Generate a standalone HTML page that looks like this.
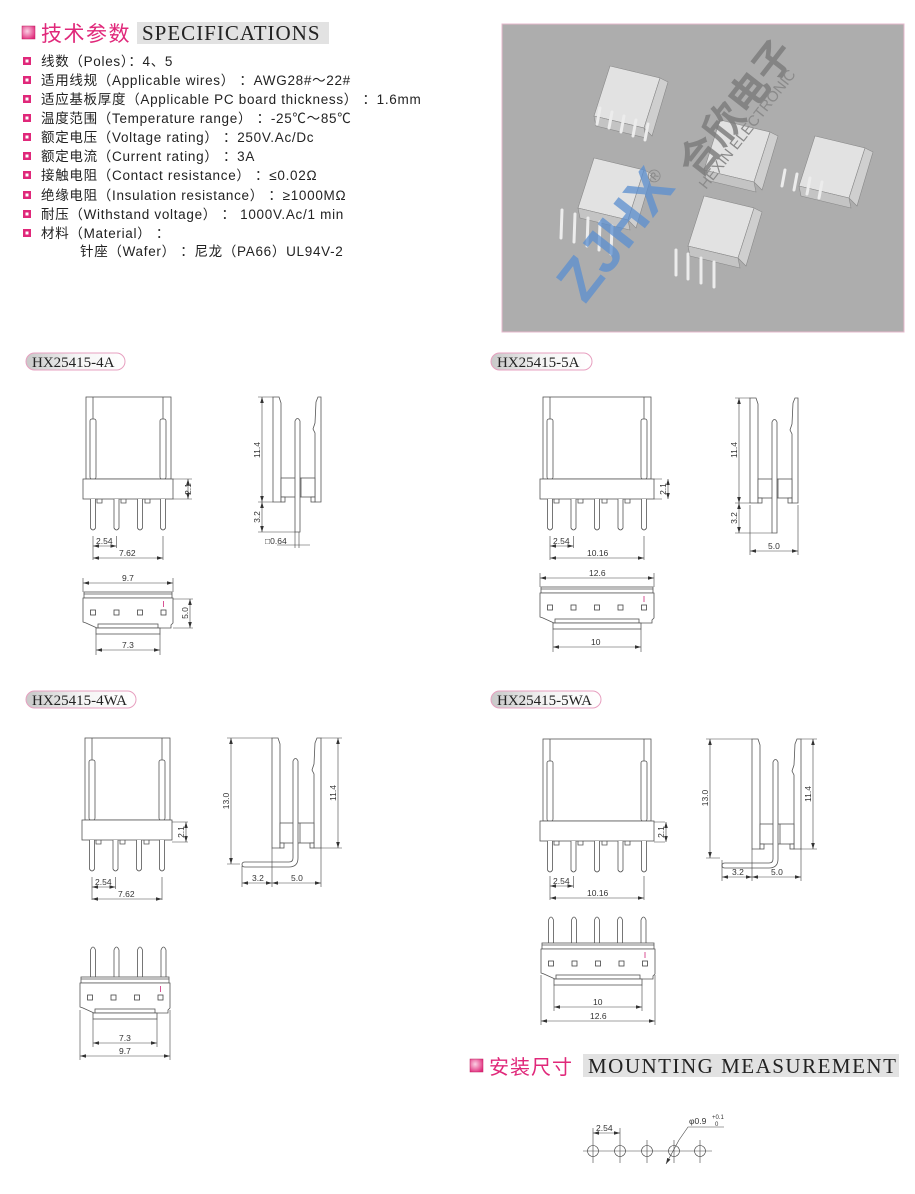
<!DOCTYPE html>
<html><head><meta charset="utf-8">
<style>
html,body{margin:0;padding:0;background:#fff;}
body{width:915px;height:1194px;overflow:hidden;position:relative;}
svg{position:absolute;left:0;top:0;}
.cn{font-family:"Liberation Sans","Noto Sans CJK SC",sans-serif;}
</style></head>
<body>
<svg width="915" height="1194" viewBox="0 0 915 1194" xmlns="http://www.w3.org/2000/svg">
<defs>
<linearGradient id="pill" x1="0" y1="0" x2="1" y2="0">
<stop offset="0" stop-color="#c8c8c8"/><stop offset="0.5" stop-color="#f4f4f4"/><stop offset="1" stop-color="#ffffff"/></linearGradient>
<radialGradient id="ico" cx="0.4" cy="0.4" r="0.7"><stop offset="0" stop-color="#fbd0e4"/><stop offset="1" stop-color="#e0287a"/></radialGradient>
<marker id="ar" viewBox="0 0 10 6" refX="10" refY="3" markerWidth="6" markerHeight="3.6" orient="auto-start-reverse" markerUnits="userSpaceOnUse"><path d="M0,0 L10,3 L0,6 Z" fill="#333"/></marker>
<g id="f4" fill="#fff" stroke="#555" stroke-width="0.8">
<rect x="3" y="0" width="85" height="82"/>
<line x1="10" y1="0" x2="10" y2="82"/><line x1="80" y1="0" x2="80" y2="82"/>
<rect x="7" y="22" width="6" height="60" rx="2"/><rect x="77" y="22" width="6" height="60" rx="2"/>
<rect x="0" y="82" width="90" height="20"/>
<path d="M7.5,102 V131 Q10,135 12.5,131 V102 M31,102 V131 Q33.5,135 36,131 V102 M54.5,102 V131 Q57,135 59.5,131 V102 M77.5,102 V131 Q80,135 82.5,131 V102"/>
<path d="M14,102 v4 h5 v-4 M38,102 v4 h5 v-4 M62,102 v4 h5 v-4" fill="none"/>
</g>
<g id="f5" fill="#fff" stroke="#555" stroke-width="0.8">
<rect x="3" y="0" width="108" height="82"/>
<line x1="10" y1="0" x2="10" y2="82"/><line x1="104" y1="0" x2="104" y2="82"/>
<rect x="7" y="22" width="6" height="60" rx="2"/><rect x="101" y="22" width="6" height="60" rx="2"/>
<rect x="0" y="82" width="114" height="20"/>
<path d="M7.5,102 V131 Q10,135 12.5,131 V102 M31,102 V131 Q33.5,135 36,131 V102 M54.5,102 V131 Q57,135 59.5,131 V102 M78,102 V131 Q80.5,135 83,131 V102 M101.5,102 V131 Q104,135 106.5,131 V102"/>
<path d="M14,102 v4 h5 v-4 M38,102 v4 h5 v-4 M62,102 v4 h5 v-4 M85,102 v4 h5 v-4" fill="none"/>
</g>
<g id="sA" fill="#fff" stroke="#555" stroke-width="0.8">
<path d="M0,0 H6 L8,6 V105 H0 Z"/>
<path d="M43,5 L45,0 H48 V105 H42 V36 L40,32 L42,26 Z"/>
<rect x="8" y="81" width="34" height="19"/><line x1="28" y1="81" x2="28" y2="100"/>
<rect x="8" y="100" width="4" height="5"/><rect x="38" y="100" width="4" height="5"/>
<path d="M22,135 V24 Q24.5,19 27,24 V135 Z"/>
</g>
<g id="sW" fill="#fff" stroke="#555" stroke-width="0.8">
<path d="M0,0 H6 L8,6 V110 H0 Z"/>
<path d="M43,5 L45,0 H49 V110 H42 V36 L40,32 L42,26 Z"/>
<rect x="8" y="85" width="34" height="20"/><line x1="28" y1="85" x2="28" y2="105"/>
<rect x="8" y="105" width="4" height="5"/><rect x="38" y="105" width="4" height="5"/>
<path d="M21,23 Q23.5,18 26,23 V120 Q26,129 17,129 H-27 Q-30,129 -30,126.5 Q-30,124 -27,124 H17 Q21,124 21,120 Z"/>
</g>
<g id="b4" fill="#fff" stroke="#555" stroke-width="0.8">
<rect x="1" y="0" width="88" height="6"/><line x1="1" y1="2" x2="89" y2="2"/>
<path d="M0,6 H90 V31 L88,33 V36 H14 L3,31 L0,30 Z"/>
<rect x="15" y="32" width="60" height="4"/>
<rect x="13" y="36" width="64" height="6"/>
<g stroke="#444"><rect x="7.5" y="18" width="5" height="5"/><rect x="31" y="18" width="5" height="5"/><rect x="54.5" y="18" width="5" height="5"/><rect x="78" y="18" width="5" height="5"/></g>
<line x1="80.5" y1="9" x2="80.5" y2="15" stroke="#d0287a"/>
</g>
<g id="b5" fill="#fff" stroke="#555" stroke-width="0.8">
<rect x="1" y="0" width="112" height="6"/><line x1="1" y1="2" x2="113" y2="2"/>
<path d="M0,6 H114 V31 L112,33 V36 H14 L3,31 L0,30 Z"/>
<rect x="15" y="32" width="84" height="4"/>
<rect x="13" y="36" width="88" height="6"/>
<g stroke="#444"><rect x="7.5" y="18" width="5" height="5"/><rect x="31" y="18" width="5" height="5"/><rect x="54.5" y="18" width="5" height="5"/><rect x="78" y="18" width="5" height="5"/><rect x="101.5" y="18" width="5" height="5"/></g>
<line x1="104" y1="9" x2="104" y2="15" stroke="#d0287a"/>
</g>
<g id="conn">
<path d="M0,0 L50,12 L34,62 L-16,50 Z" fill="#e2e2e2" stroke="#8a8a8a" stroke-width="0.6"/>
<path d="M-16,50 L34,62 L36,72 L-14,60 Z" fill="#c4c4c4" stroke="#8a8a8a" stroke-width="0.6"/>
<path d="M34,62 L50,12 L58,16 L42,70 Z" fill="#cfcfcf" stroke="#8a8a8a" stroke-width="0.6"/>
</g>
</defs>

<!-- SPECIFICATIONS header -->
<rect x="22" y="26" width="13" height="13" fill="url(#ico)" stroke="#c02060" stroke-width="0.5"/>
<text x="41" y="41" class="cn" font-size="21" letter-spacing="1.5" fill="#e0287a">技术参数</text>
<rect x="137" y="22" width="192" height="22" fill="#e2e2e2"/>
<text x="142" y="40" font-family="Liberation Serif,serif" font-size="21" letter-spacing="1" fill="#222">SPECIFICATIONS</text>

<g class="cn" font-size="13.5" letter-spacing="0.7" fill="#222">
<g fill="#e0287a"><rect x="23" y="57" width="8" height="8"/><rect x="23" y="76" width="8" height="8"/><rect x="23" y="95" width="8" height="8"/><rect x="23" y="114" width="8" height="8"/><rect x="23" y="133" width="8" height="8"/><rect x="23" y="152" width="8" height="8"/><rect x="23" y="171" width="8" height="8"/><rect x="23" y="191" width="8" height="8"/><rect x="23" y="210" width="8" height="8"/><rect x="23" y="229" width="8" height="8"/></g>
<g fill="#fff"><rect x="25.5" y="59.5" width="3" height="3"/><rect x="25.5" y="78.5" width="3" height="3"/><rect x="25.5" y="97.5" width="3" height="3"/><rect x="25.5" y="116.5" width="3" height="3"/><rect x="25.5" y="135.5" width="3" height="3"/><rect x="25.5" y="154.5" width="3" height="3"/><rect x="25.5" y="173.5" width="3" height="3"/><rect x="25.5" y="193.5" width="3" height="3"/><rect x="25.5" y="212.5" width="3" height="3"/><rect x="25.5" y="231.5" width="3" height="3"/></g>
<text x="41" y="66">线数（Poles）：4、5</text>
<text x="41" y="85">适用线规（Applicable wires） ：AWG28#～22#</text>
<text x="41" y="104">适应基板厚度（Applicable PC board thickness） ：1.6mm</text>
<text x="41" y="123">温度范围（Temperature range） ：-25℃～85℃</text>
<text x="41" y="142">额定电压（Voltage rating） ：250V.Ac/Dc</text>
<text x="41" y="161">额定电流（Current rating） ：3A</text>
<text x="41" y="180">接触电阻（Contact resistance） ：≤0.02Ω</text>
<text x="41" y="200">绝缘电阻（Insulation resistance） ：≥1000MΩ</text>
<text x="41" y="219">耐压（Withstand voltage） ： 1000V.Ac/1 min</text>
<text x="41" y="238">材料（Material） ：</text>
<text x="80" y="256">针座（Wafer） ：尼龙（PA66）UL94V-2</text>
</g>

<!-- photo -->
<rect x="502" y="24" width="402" height="308" fill="#adadad" stroke="#e6b8cc" stroke-width="1"/>
<use href="#conn" x="610" y="66"/>
<use href="#conn" x="594" y="158"/>
<use href="#conn" x="704" y="196"/>
<use href="#conn" x="815" y="136"/>
<use href="#conn" x="720" y="120"/>
<g stroke="#ececec" stroke-width="3" stroke-linecap="round">
<path d="M600,108 L597,124 M612,112 L609,128 M624,116 L621,132 M636,120 L633,136 M648,124 L645,140"/>
<path d="M562,210 L561,238 M575,214 L574,242 M588,218 L587,246 M600,222 L599,250 M612,226 L611,254"/>
<path d="M676,250 L676,275 M688,254 L688,279 M701,258 L701,283 M714,262 L714,287"/>
<path d="M785,170 L782,186 M797,174 L794,190 M810,178 L807,194 M822,182 L819,198"/>
</g>
<text x="0" y="0" font-family="Liberation Sans,sans-serif" font-weight="bold" font-size="58" fill="#5b8fd0" opacity="0.75" transform="translate(585,305) rotate(-52)">ZJHX</text>
<text x="0" y="0" class="cn" font-weight="bold" font-size="40" fill="#7a7a7a" opacity="0.8" transform="translate(698,180) rotate(-52)">合欣电子</text>
<text x="0" y="0" font-family="Liberation Sans,sans-serif" font-size="15" fill="#8a8a8a" transform="translate(706,190) rotate(-52)">HEXIN ELECTRONIC</text>
<text x="0" y="0" font-family="Liberation Sans,sans-serif" font-size="18" fill="#8a8a8a" transform="translate(655,185) rotate(-52)">®</text>

<!-- labels -->
<g font-family="Liberation Serif,serif" font-size="15" fill="#222">
<rect x="26" y="353" width="99" height="17" rx="8.5" fill="url(#pill)" stroke="#e7a0c0" stroke-width="1"/>
<text x="32" y="367">HX25415-4A</text>
<rect x="491" y="353" width="101" height="17" rx="8.5" fill="url(#pill)" stroke="#e7a0c0" stroke-width="1"/>
<text x="497" y="367">HX25415-5A</text>
<rect x="26" y="691" width="110" height="17" rx="8.5" fill="url(#pill)" stroke="#e7a0c0" stroke-width="1"/>
<text x="32" y="705">HX25415-4WA</text>
<rect x="491" y="691" width="110" height="17" rx="8.5" fill="url(#pill)" stroke="#e7a0c0" stroke-width="1"/>
<text x="497" y="705">HX25415-5WA</text>
</g>

<!-- drawings -->
<use href="#f4" x="83" y="397"/>
<use href="#f5" x="540" y="397"/>
<use href="#f4" x="82" y="738"/>
<use href="#f5" x="540" y="739"/>
<use href="#sA" x="273" y="397"/>
<use href="#sA" x="750" y="398"/>
<use href="#sW" x="272" y="738"/>
<use href="#sW" x="752" y="739"/>
<use href="#b4" x="83" y="592"/>
<use href="#b5" x="540" y="587"/>
<g fill="#fff" stroke="#555" stroke-width="0.8">
<path d="M90.5,977 V950 Q93,944 95.5,950 V977 M114,977 V950 Q116.5,944 119,950 V977 M137.5,977 V950 Q140,944 142.5,950 V977 M161,977 V950 Q163.5,944 166,950 V977"/>
<path d="M548.5,947 V920 Q551,914 553.5,920 V947 M571.5,947 V920 Q574,914 576.5,920 V947 M594.5,947 V920 Q597,914 599.5,920 V947 M617.5,947 V920 Q620,914 622.5,920 V947 M641,947 V920 Q643.5,914 646,920 V947"/>
</g>
<use href="#b4" x="80" y="977"/>
<use href="#b5" x="541" y="943"/>

<!-- dimensions -->
<g stroke="#444" stroke-width="0.6" fill="none">
<path d="M93,536 V560 M116.5,536 V548 M163,536 V560 M173,479 H192 M173,499 H192"/>
<line x1="93" y1="546" x2="116.5" y2="546" marker-start="url(#ar)" marker-end="url(#ar)"/>
<line x1="93" y1="558" x2="163" y2="558" marker-start="url(#ar)" marker-end="url(#ar)"/>
<line x1="188" y1="479" x2="188" y2="499" marker-start="url(#ar)" marker-end="url(#ar)"/>
<path d="M258,397 H273 M258,502 H273 M258,532 H295 M299,532 V548"/>
<line x1="262" y1="397" x2="262" y2="502" marker-start="url(#ar)" marker-end="url(#ar)"/>
<line x1="262" y1="502" x2="262" y2="532" marker-start="url(#ar)" marker-end="url(#ar)"/>
<path d="M295,532 V548 M277,545 H310"/>
<path d="M83,578 V592 M173,578 V592 M173,599 H193 M173,628 H193 M96,634 V655 M160,634 V655"/>
<line x1="83" y1="583" x2="173" y2="583" marker-start="url(#ar)" marker-end="url(#ar)"/>
<line x1="190" y1="599" x2="190" y2="628" marker-start="url(#ar)" marker-end="url(#ar)"/>
<line x1="96" y1="650" x2="160" y2="650" marker-start="url(#ar)" marker-end="url(#ar)"/>
<path d="M550,536 V560 M573.5,536 V548 M644,536 V560 M654,479 H662 M654,499 H662"/>
<line x1="550" y1="546" x2="573.5" y2="546" marker-start="url(#ar)" marker-end="url(#ar)"/>
<line x1="550" y1="558" x2="644" y2="558" marker-start="url(#ar)" marker-end="url(#ar)"/>
<line x1="668" y1="479" x2="668" y2="499" marker-start="url(#ar)" marker-end="url(#ar)"/>
<path d="M735,398 H750 M735,503 H750 M735,533 H772 M750,505 V555 M798,505 V555"/>
<line x1="739" y1="398" x2="739" y2="503" marker-start="url(#ar)" marker-end="url(#ar)"/>
<line x1="739" y1="503" x2="739" y2="533" marker-start="url(#ar)" marker-end="url(#ar)"/>
<line x1="750" y1="551" x2="798" y2="551" marker-start="url(#ar)" marker-end="url(#ar)"/>
<path d="M540,573 V587 M654,573 V587 M553,629 V652 M641,629 V652"/>
<line x1="540" y1="578" x2="654" y2="578" marker-start="url(#ar)" marker-end="url(#ar)"/>
<line x1="553" y1="647" x2="641" y2="647" marker-start="url(#ar)" marker-end="url(#ar)"/>
<path d="M92,877 V900 M115.5,877 V889 M162,877 V900 M172,822 H188 M172,842 H188"/>
<line x1="92" y1="887" x2="115.5" y2="887" marker-start="url(#ar)" marker-end="url(#ar)"/>
<line x1="92" y1="899" x2="162" y2="899" marker-start="url(#ar)" marker-end="url(#ar)"/>
<line x1="186" y1="822" x2="186" y2="842" marker-start="url(#ar)" marker-end="url(#ar)"/>
<path d="M227,738 H272 M227,864 H240 M321,738 H342 M321,848 H342 M242,866 V887 M272,848 V887 M321,848 V887"/>
<line x1="231" y1="738" x2="231" y2="864" marker-start="url(#ar)" marker-end="url(#ar)"/>
<line x1="338" y1="738" x2="338" y2="848" marker-start="url(#ar)" marker-end="url(#ar)"/>
<line x1="242" y1="883" x2="272" y2="883" marker-start="url(#ar)" marker-end="url(#ar)"/>
<line x1="272" y1="883" x2="321" y2="883" marker-start="url(#ar)" marker-end="url(#ar)"/>
<path d="M93,1019 V1047 M157,1019 V1047 M80,1010 V1060 M170,1010 V1060"/>
<line x1="93" y1="1043" x2="157" y2="1043" marker-start="url(#ar)" marker-end="url(#ar)"/>
<line x1="80" y1="1056" x2="170" y2="1056" marker-start="url(#ar)" marker-end="url(#ar)"/>
<path d="M550,876 V900 M573.5,876 V888 M644,876 V900 M654,822 H665 M654,842 H665"/>
<line x1="550" y1="886" x2="573.5" y2="886" marker-start="url(#ar)" marker-end="url(#ar)"/>
<line x1="550" y1="898" x2="644" y2="898" marker-start="url(#ar)" marker-end="url(#ar)"/>
<line x1="666" y1="822" x2="666" y2="842" marker-start="url(#ar)" marker-end="url(#ar)"/>
<path d="M706,739 H752 M706,858 H720 M801,739 H817 M801,849 H817 M722,860 V881 M752,849 V881 M801,849 V881"/>
<line x1="710" y1="739" x2="710" y2="858" marker-start="url(#ar)" marker-end="url(#ar)"/>
<line x1="813" y1="739" x2="813" y2="849" marker-start="url(#ar)" marker-end="url(#ar)"/>
<line x1="722" y1="877" x2="752" y2="877" marker-start="url(#ar)" marker-end="url(#ar)"/>
<line x1="752" y1="877" x2="801" y2="877" marker-start="url(#ar)" marker-end="url(#ar)"/>
<path d="M554,985 V1011 M642,985 V1011 M541,975 V1025 M655,975 V1025"/>
<line x1="554" y1="1007" x2="642" y2="1007" marker-start="url(#ar)" marker-end="url(#ar)"/>
<line x1="541" y1="1021" x2="655" y2="1021" marker-start="url(#ar)" marker-end="url(#ar)"/>
</g>

<g font-family="Liberation Sans,sans-serif" font-size="8.5" fill="#333">
<text x="96" y="544">2.54</text><text x="119" y="556">7.62</text>
<text x="186" y="494" transform="rotate(-90 186 489)" text-anchor="middle">2.1</text>
<text x="260" y="450" transform="rotate(-90 260 450)" text-anchor="middle">11.4</text>
<text x="260" y="517" transform="rotate(-90 260 517)" text-anchor="middle">3.2</text>
<text x="265" y="544">□0.64</text>
<text x="122" y="581">9.7</text>
<text x="188" y="613" transform="rotate(-90 188 613)" text-anchor="middle">5.0</text>
<text x="122" y="648">7.3</text>
<text x="553" y="544">2.54</text><text x="587" y="556">10.16</text>
<text x="666" y="489" transform="rotate(-90 666 489)" text-anchor="middle">2.1</text>
<text x="737" y="450" transform="rotate(-90 737 450)" text-anchor="middle">11.4</text>
<text x="737" y="518" transform="rotate(-90 737 518)" text-anchor="middle">3.2</text>
<text x="768" y="549">5.0</text>
<text x="589" y="576">12.6</text>
<text x="591" y="645">10</text>
<text x="95" y="885">2.54</text><text x="118" y="897">7.62</text>
<text x="184" y="832" transform="rotate(-90 184 832)" text-anchor="middle">2.1</text>
<text x="229" y="801" transform="rotate(-90 229 801)" text-anchor="middle">13.0</text>
<text x="336" y="793" transform="rotate(-90 336 793)" text-anchor="middle">11.4</text>
<text x="252" y="881">3.2</text><text x="291" y="881">5.0</text>
<text x="119" y="1041">7.3</text><text x="119" y="1054">9.7</text>
<text x="553" y="884">2.54</text><text x="587" y="896">10.16</text>
<text x="664" y="832" transform="rotate(-90 664 832)" text-anchor="middle">2.1</text>
<text x="708" y="798" transform="rotate(-90 708 798)" text-anchor="middle">13.0</text>
<text x="811" y="794" transform="rotate(-90 811 794)" text-anchor="middle">11.4</text>
<text x="732" y="875">3.2</text><text x="771" y="875">5.0</text>
<text x="593" y="1005">10</text><text x="590" y="1019">12.6</text>
</g>

<!-- MOUNTING -->
<rect x="470" y="1059" width="13" height="13" fill="url(#ico)" stroke="#c02060" stroke-width="0.5"/>
<text x="489" y="1074" class="cn" font-size="20" letter-spacing="1" fill="#e0287a">安装尺寸</text>
<rect x="583" y="1054" width="316" height="23" fill="#e2e2e2"/>
<text x="588" y="1073" font-family="Liberation Serif,serif" font-size="21" letter-spacing="1.5" fill="#222">MOUNTING MEASUREMENT</text>

<g stroke="#444" stroke-width="0.6" fill="none">
<line x1="583" y1="1151" x2="712" y2="1151"/>
<circle cx="593" cy="1151" r="5.5"/><circle cx="620" cy="1151" r="5.5"/><circle cx="647" cy="1151" r="5.5"/><circle cx="674" cy="1151" r="5.5"/><circle cx="700" cy="1151" r="5.5"/>
<path d="M593,1140 V1163 M620,1140 V1163 M647,1140 V1163 M674,1140 V1163 M700,1140 V1163 M593,1128 V1140 M620,1128 V1140"/>
<line x1="593" y1="1133" x2="620" y2="1133" marker-start="url(#ar)" marker-end="url(#ar)"/>
<line x1="666" y1="1164" x2="679" y2="1140" marker-start="url(#ar)"/>
<path d="M679,1140 L688,1127 H724"/>
</g>
<g font-family="Liberation Sans,sans-serif" fill="#333">
<text x="596" y="1131" font-size="8.5">2.54</text>
<text x="689" y="1124" font-size="8.5">φ0.9</text>
<text x="712" y="1119" font-size="6">+0.1</text>
<text x="715" y="1126" font-size="6">0</text>
</g>
</svg>
</body></html>
